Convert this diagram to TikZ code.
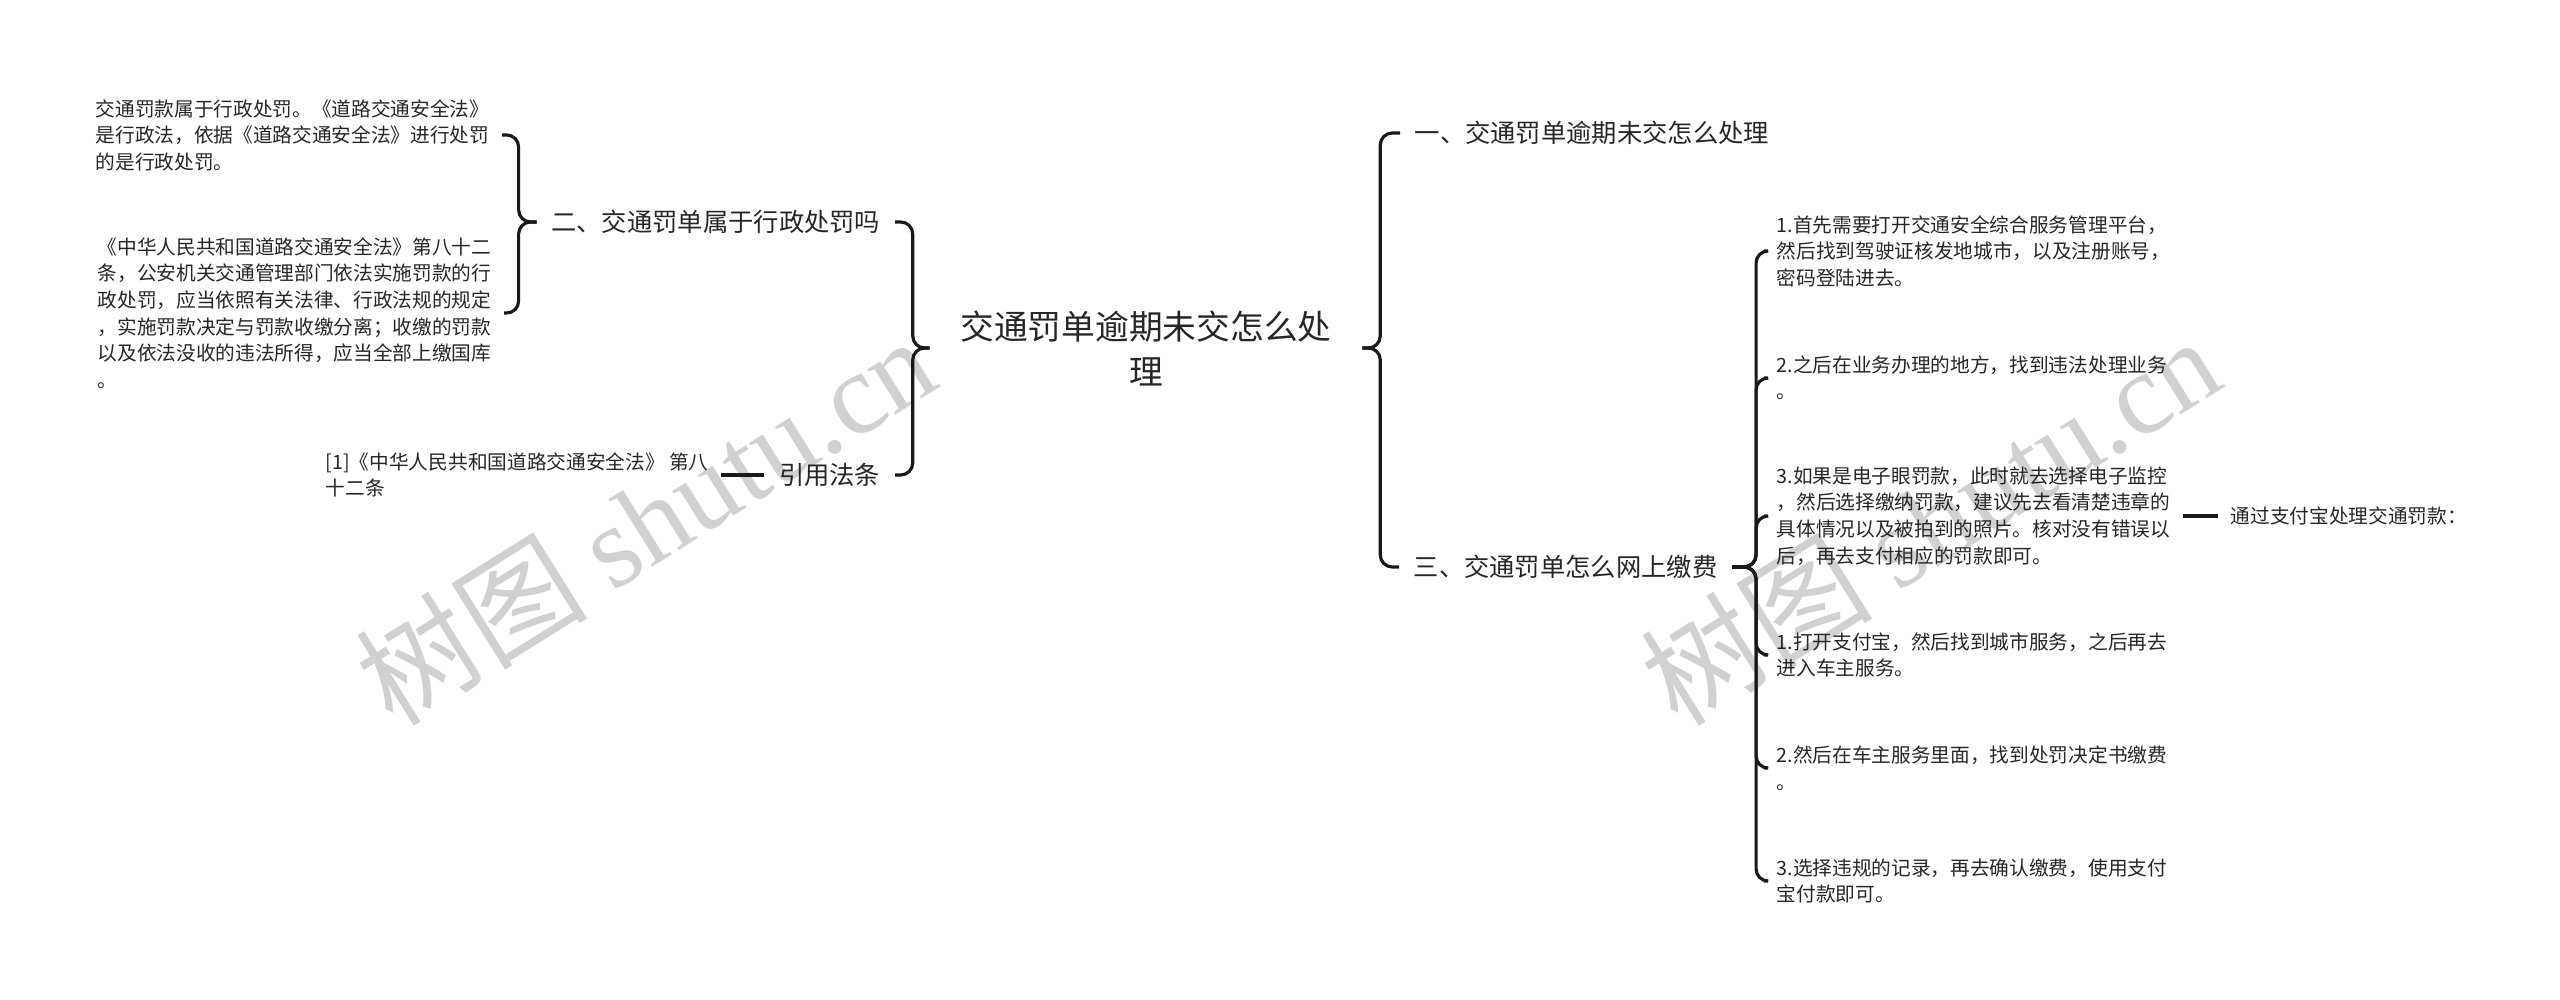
\documentclass[tikz,border=0pt]{standalone}
\usepackage{fontspec}
\setmainfont{Noto Sans CJK SC}
\newfontfamily\wmfont{Liberation Serif}

\tikzset{
  leaf/.style={font=\fontsize{5.6}{7.55}\selectfont, align=left, text=black!85, inner xsep=0.12cm, inner ysep=0.05cm},
  topic/.style={font=\fontsize{7.2}{9}\selectfont, text=black!85, inner xsep=0.14cm},
  link/.style={draw=black!90, line width=0.9pt, rounded corners=0.12cm},
  watermark/.style={font=\fontsize{33}{36}\selectfont, text=black!18, rotate=32},
}

\begin{document}
\begin{tikzpicture}
    \useasboundingbox (0,0) rectangle (25.6,-10);

    % watermarks
    \node[watermark] (wmL) at (6.45,-5.2) {树图 {\wmfont shutu.cn}};
    \node[watermark] (wmR) at (19.3,-5.2) {树图 {\wmfont shutu.cn}};

    % root
    \node[font=\fontsize{9.6}{12.8}\selectfont, align=center, text=black!85, inner xsep=0.3cm] (root) at (11.46,-3.48)
        {交通罚单逾期未交怎么处\\理};

    % left branch
    \node[topic, anchor=east] (qTwo) at (8.95,-2.22) {二、交通罚单属于行政处罚吗};
    \node[topic, anchor=east] (cite) at (8.95,-4.75) {引用法条};
    \node[leaf, anchor=west] (leafA) at (0.83,-1.35)
        {交通罚款属于行政处罚。《道路交通安全法》\\是行政法，依据《道路交通安全法》进行处罚\\的是行政处罚。};
    \node[leaf, anchor=west] (leafB) at (0.85,-3.13)
        {《中华人民共和国道路交通安全法》第八十二\\条，公安机关交通管理部门依法实施罚款的行\\政处罚，应当依照有关法律、行政法规的规定\\，实施罚款决定与罚款收缴分离；收缴的罚款\\以及依法没收的违法所得，应当全部上缴国库\\。};
    \node[leaf, anchor=west] (leafC) at (3.13,-4.75)
        {[1]《中华人民共和国道路交通安全法》 第八\\十二条};

    % right branch
    \node[topic, anchor=west] (qOne) at (14.0,-1.33) {一、交通罚单逾期未交怎么处理};
    \node[topic, anchor=west] (qThree) at (13.99,-5.67) {三、交通罚单怎么网上缴费};
    \node[leaf, anchor=west] (stepA) at (17.64,-2.51)
        {1.首先需要打开交通安全综合服务管理平台，\\然后找到驾驶证核发地城市，以及注册账号，\\密码登陆进去。};
    \node[leaf, anchor=west] (stepB) at (17.64,-3.78)
        {2.之后在业务办理的地方，找到违法处理业务\\。};
    \node[leaf, anchor=west] (stepC) at (17.64,-5.16)
        {3.如果是电子眼罚款，此时就去选择电子监控\\，然后选择缴纳罚款，建议先去看清楚违章的\\具体情况以及被拍到的照片。核对没有错误以\\后，再去支付相应的罚款即可。};
    \node[leaf, anchor=west] (payA) at (17.64,-6.55)
        {1.打开支付宝，然后找到城市服务，之后再去\\进入车主服务。};
    \node[leaf, anchor=west] (payB) at (17.64,-7.68)
        {2.然后在车主服务里面，找到处罚决定书缴费\\。};
    \node[leaf, anchor=west] (payC) at (17.64,-8.81)
        {3.选择违规的记录，再去确认缴费，使用支付\\宝付款即可。};
    \node[leaf, anchor=west] (alipay) at (22.18,-5.16) {通过支付宝处理交通罚款：};

    % connectors
    \draw[link] (root.west) -- ++(-0.17,0) |- (qTwo.east);
    \draw[link] (root.west) -- ++(-0.17,0) |- (cite.east);
    \draw[link] (root.east) -- ++(0.18,0) |- (qOne.west);
    \draw[link] (root.east) -- ++(0.18,0) |- (qThree.west);
    \draw[link] (qTwo.west) -- ++(-0.18,0) |- (leafA.east);
    \draw[link] (qTwo.west) -- ++(-0.18,0) |- (leafB.east);
    \draw[link] (leafC.east) -- (cite.west);
    \foreach \s in {stepA,stepB,stepC,payA,payB,payC}
        \draw[link] (qThree.east) -- ++(0.24,0) |- (\s.west);
    \draw[link] (stepC.east) -- (alipay.west);
\end{tikzpicture}
\end{document}
